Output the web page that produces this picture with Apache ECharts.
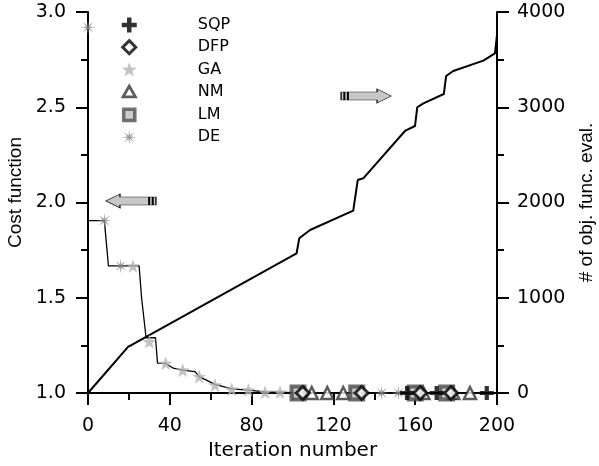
<!DOCTYPE html>
<html><head><meta charset="utf-8">
<script src="https://cdn.jsdelivr.net/npm/echarts@6/dist/echarts.min.js"></script>
<style>html,body{margin:0;padding:0;background:#fff}#c{width:599px;height:466px}</style>
</head><body><div id="c"></div>
<script>
// ---- data ----
const costX = [0, 0, 8, 10, 25, 26.2, 28.4, 33, 34, 38, 41.7, 46.3, 52.3, 54.4, 62.1, 70.3, 78.4, 86.6, 94, 100, 200];
const costY = [2.92, 1.905, 1.905, 1.667, 1.667, 1.50, 1.29, 1.29, 1.157, 1.155, 1.13, 1.12, 1.112, 1.086, 1.045, 1.022, 1.015, 1.006, 1.004, 1.002, 1.0];

const evalX = [0, 19.7, 21.4, 102, 103.3, 108.6, 129.7, 131.9, 134.6, 155, 159.9, 161, 164, 174, 175.1, 178.6, 193.3, 199, 200];
const evalY = [0, 486, 504, 1467, 1624, 1711, 1914, 2236, 2254, 2751, 2803, 3000, 3041, 3139, 3328, 3381, 3489, 3566, 3760];

const sqpX = [156, 170.5, 195];
const sqpY = [1.0, 1.0, 1.0];
const dfpX = [105, 133.8, 162.5, 177.5];
const dfpY = [1.0, 1.0, 1.0, 1.0];
const gaX = [22, 30, 38, 46.3, 54.4, 62.1, 70.3, 78.4, 86.6, 93.9];
const gaY = [1.667, 1.27, 1.156, 1.12, 1.086, 1.042, 1.02, 1.016, 1.004, 1.005];
const nmX = [109.4, 117, 124.8, 164, 178.6, 186.8];
const nmY = [1.0, 1.0, 1.0, 1.0, 1.0, 1.0];
const lmX = [102.7, 131.4, 160, 175.4];
const lmY = [1.0, 1.0, 1.0, 1.0];
const deX = [0, 8, 16, 143.6, 151.8];
const deY = [2.92, 1.905, 1.667, 1.0, 1.0];

const seriesNames = ['SQP', 'DFP', 'GA', 'NM', 'LM', 'DE'];
const xTicks = { min: 0, max: 200, step: 40 };
const leftTicks = { min: 1, max: 3, step: 0.5 };
const rightTicks = { min: 0, max: 4000, step: 1000 };
const xTitle = 'Iteration number';
const leftTitle = 'Cost function';
const rightTitle = '# of obj. func. eval.';
// arrow annotation anchors (data coordinates)
const leftArrowAt = [21, 2.008];
const rightArrowAt = [136, 3118];

// ---- build ----
const pairs = (xs, ys) => xs.map((x, i) => [x, ys[i]]);

const SYM = {
  plus: 'path://M7 0H13V7H20V13H13V20H7V13H0V7H7Z',
  diamond: 'path://M10 0L20 10L10 20L0 10Z',
  star: 'path://M10 0L12.35 6.76L19.51 6.91L13.8 11.24L15.88 18.09L10 14L4.12 18.09L6.2 11.24L0.49 6.91L7.65 6.76Z',
  tri: 'path://M10 0L20 17.3L0 17.3Z',
  rect: 'path://M0 0H20V20H0Z',
  aster: 'path://M20 10L12.31 10.96L17.07 17.07L10.96 12.31L10 20L9.04 12.31L2.93 17.07L7.69 10.96L0 10L7.69 9.04L2.93 2.93L9.04 7.69L10 0L10.96 7.69L17.07 2.93L12.31 9.04Z',
  arrowL: 'path://M0 7L14 0L14 3L50 3L50 11L14 11L14 14Z',
  arrowR: 'path://M0 3H36V0L50 7L36 14V11H0Z',
  stripes: 'path://M0 0H2V8H0Z M3.6 0H5.6V8H3.6Z',
  // legend-only icons with a little empty margin so they draw smaller
  diaPad: 'path://M-1.5 -1.5L-1.5 -1.5M21.5 21.5L21.5 21.5M10 0L20 10L10 20L0 10Z',
  triPad: 'path://M-2 -3.5L-2 -3.5M22 20.8L22 20.8M10 0L20 17.3L0 17.3Z',
  rectPad: 'path://M-3.5 -3.5L-3.5 -3.5M23.5 23.5L23.5 23.5M0 0H20V20H0Z'
};

const H = 'DejaVu Sans';
const V = 'Liberation Sans';
const blackLine = { color: '#000', width: 2 };

function scatter(name, xs, ys, symbol, size, itemStyle, z) {
  return { name, type: 'scatter', data: pairs(xs, ys), symbol, symbolSize: size, itemStyle, z: z || 5 };
}

const option = {
  animation: false,
  backgroundColor: '#fff',
  grid: { left: 88, right: 102, top: 12, bottom: 73, containLabel: false, outerBoundsMode: 'none' },
  legend: {
    orient: 'vertical', left: 115, top: 12,
    itemWidth: 15, itemHeight: 15, itemGap: 5.2,
    data: [
      { name: 'SQP', itemStyle: { color: '#000' } },
      { name: 'DFP', icon: SYM.diaPad, itemStyle: { color: '#fff', borderColor: '#000', borderWidth: 3 } },
      { name: 'GA' },
      { name: 'NM', icon: SYM.triPad, itemStyle: { color: '#fff', borderColor: '#333', borderWidth: 2.8 } },
      { name: 'LM', icon: SYM.rectPad, itemStyle: { color: '#c0c0c0', borderColor: '#505050', borderWidth: 3.5 } },
      { name: 'DE' }
    ],
    symbolKeepAspect: true,
    formatter: n => '{s|}' + n,
    textStyle: {
      fontFamily: H, fontSize: 16, color: '#000', lineHeight: 16,
      rich: { s: { width: 56, height: 16 } }
    }
  },
  xAxis: {
    type: 'value', min: xTicks.min, max: xTicks.max, interval: xTicks.step,
    name: xTitle, nameLocation: 'middle', nameGap: 45,
    nameTextStyle: { fontFamily: H, fontSize: 20, color: '#000' },
    axisLine: { show: true, lineStyle: blackLine },
    axisTick: { show: true, length: 12, lineStyle: blackLine },
    minorTick: { show: true, splitNumber: 2, length: 7, lineStyle: blackLine },
    splitLine: { show: false },
    axisLabel: { margin: 24, fontFamily: H, fontSize: 19, color: '#000' }
  },
  yAxis: [
    {
      type: 'value', position: 'left', min: leftTicks.min, max: leftTicks.max, interval: leftTicks.step,
      name: leftTitle, nameLocation: 'middle', nameGap: 62,
      nameTextStyle: { fontFamily: V, fontSize: 19, color: '#000', padding: [0, 0, 0, 20] },
      axisLine: { show: true, lineStyle: blackLine },
      axisTick: { show: true, length: 12, lineStyle: blackLine },
      minorTick: { show: true, splitNumber: 2, length: 7, lineStyle: blackLine },
      splitLine: { show: false },
      axisLabel: { margin: 22, fontFamily: H, fontSize: 19, color: '#000', formatter: v => v.toFixed(1) }
    },
    {
      type: 'value', position: 'right', min: rightTicks.min, max: rightTicks.max, interval: rightTicks.step,
      name: rightTitle, nameLocation: 'middle', nameGap: 80,
      nameTextStyle: { fontFamily: V, fontSize: 19, color: '#000' },
      axisLine: { show: true, lineStyle: blackLine },
      axisTick: { show: true, length: 12, lineStyle: blackLine },
      minorTick: { show: true, splitNumber: 2, length: 7, lineStyle: blackLine },
      splitLine: { show: false },
      axisLabel: { margin: 20, fontFamily: H, fontSize: 19, color: '#000', formatter: v => String(v) }
    }
  ],
  series: [
    {
      name: 'evals', type: 'line', yAxisIndex: 1, data: pairs(evalX, evalY),
      symbol: 'none', lineStyle: { color: '#000', width: 2 }, z: 3,
      markPoint: {
        label: { show: false },
        data: [
          { coord: rightArrowAt, symbol: SYM.arrowR, symbolSize: [50, 14], itemStyle: { color: '#c8c8c8', borderColor: '#222', borderWidth: 0.8 } },
          { coord: rightArrowAt, symbol: SYM.stripes, symbolSize: [5.6, 8], symbolOffset: [-20, 0], itemStyle: { color: '#000' } }
        ]
      }
    },
    {
      name: 'cost', type: 'line', yAxisIndex: 0, data: pairs(costX, costY),
      symbol: 'none', lineStyle: { color: '#000', width: 1.3 }, z: 3,
      markPoint: {
        label: { show: false },
        data: [
          { coord: leftArrowAt, symbol: SYM.arrowL, symbolSize: [50, 14], itemStyle: { color: '#c8c8c8', borderColor: '#222', borderWidth: 0.8 } },
          { coord: leftArrowAt, symbol: SYM.stripes, symbolSize: [5.6, 8], symbolOffset: [20, 0], itemStyle: { color: '#000' } }
        ]
      }
    },
    scatter('SQP', sqpX, sqpY, SYM.plus, 14, { color: '#000' }, 6),
    scatter('DFP', dfpX, dfpY, SYM.diamond, 13, { color: '#fff', borderColor: '#000', borderWidth: 3 }, 6),
    scatter('GA', gaX, gaY, SYM.star, 14, { color: '#b4b4b4' }, 5),
    scatter('NM', nmX, nmY, SYM.tri, 12, { color: '#fff', borderColor: '#333', borderWidth: 2.5 }, 5),
    scatter('LM', lmX, lmY, SYM.rect, 13, { color: '#bbb', borderColor: '#4a4a4a', borderWidth: 4 }, 5),
    scatter('DE', deX, deY, SYM.aster, 15, { color: '#888' }, 5)
  ]
};

const chart = echarts.init(document.getElementById('c'), null, { renderer: 'canvas' });
chart.setOption(option);
</script></body></html>
